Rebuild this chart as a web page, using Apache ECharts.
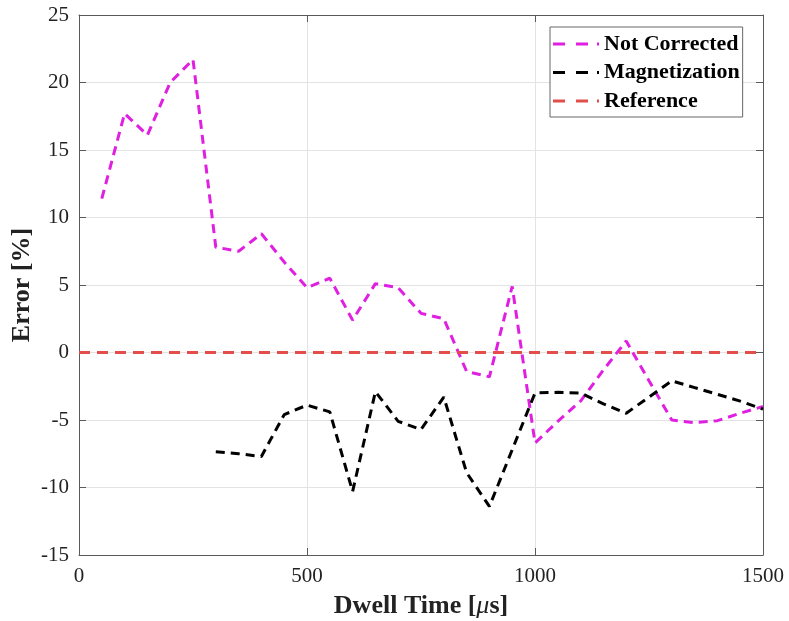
<!DOCTYPE html>
<html>
<head>
<meta charset="utf-8">
<script src="https://cdn.jsdelivr.net/npm/echarts@6/dist/echarts.min.js"></script>
<style>html,body{margin:0;padding:0;background:#fff}#c{width:789px;height:621px}</style>
</head>
<body>
<div id="c"></div>
<script>
// Data
const xNotCorrected = [50,100,150,200,250,300,350,400,450,500,550,600,650,700,750,800,850,900,950,1000,1050,1100,1150,1200,1250,1300,1350,1400,1450,1500];
const notCorrected = [11.4,17.7,16.1,20.0,21.7,7.8,7.5,8.8,6.7,4.8,5.5,2.4,5.1,4.8,2.9,2.5,-1.4,-1.8,4.9,-6.7,-5.1,-3.6,-1.3,0.85,-2.1,-5.0,-5.2,-5.05,-4.5,-4.0];
const xMagnetization = [300,350,400,450,500,550,600,650,700,750,800,850,900,950,1000,1050,1100,1150,1200,1250,1300,1350,1400,1450,1500];
const magnetization = [-7.35,-7.5,-7.7,-4.6,-3.9,-4.4,-10.3,-2.9,-5.1,-5.7,-3.3,-8.9,-11.4,-7.2,-3.0,-2.95,-3.0,-3.8,-4.5,-3.3,-2.1,-2.6,-3.1,-3.6,-4.2];
const xReference = [0,1500];
const reference = [0,0];
const seriesNames = ['Not Corrected','Magnetization','Reference'];
const xTicks = [0,500,1000,1500];
const yTicks = [-15,-10,-5,0,5,10,15,20,25];

const pair = (xs, ys) => xs.map((x, i) => [x, ys[i]]);
const serif = 'Liberation Serif';
const axisCol = '#5a5a5a';
const dashIcon = 'path://M0,0h12v3h-12z M23,0h12v3h-12z M44,0h2v3h-2z';

const xBase = {
  type: 'value', min: xTicks[0], max: xTicks[xTicks.length-1], interval: 500,
  axisLine: {show: true, onZero: false, lineStyle: {color: axisCol, width: 1}},
  axisTick: {show: true, inside: true, length: 7, lineStyle: {color: axisCol}},
  splitLine: {show: false}
};
const yBase = {
  type: 'value', min: yTicks[0], max: yTicks[yTicks.length-1], interval: 5,
  axisLine: {show: true, onZero: false, lineStyle: {color: axisCol, width: 1}},
  axisTick: {show: true, inside: true, length: 7, lineStyle: {color: axisCol}},
  splitLine: {show: false}
};

const option = {
  animation: false,
  backgroundColor: '#fff',
  grid: {left: 79, right: 26, top: 15, bottom: 66, containLabel: false, outerBoundsMode: 'none'},
  legend: {
    orient: 'vertical', left: 550, top: 27,
    padding: [6, 3, 5, 3],
    itemGap: 6.5, itemWidth: 46, itemHeight: 3,
    backgroundColor: '#fff', borderColor: '#666', borderWidth: 1,
    textStyle: {fontFamily: serif, fontWeight: 'bold', fontSize: 22, color: '#000'},
    data: seriesNames.map(n => ({name: n, icon: dashIcon}))
  },
  xAxis: [
    Object.assign({}, xBase, {
      position: 'bottom',
      splitLine: {show: true, lineStyle: {color: '#e3e3e3', width: 1}},
      axisLabel: {fontFamily: serif, fontSize: 21, color: '#222', margin: 11, formatter: v => String(v)},
      name: '{b|Dwell Time [}{i|\u03bc}{b|s]}',
      nameLocation: 'middle', nameGap: 38,
      nameTextStyle: {
        rich: {
          b: {fontFamily: serif, fontWeight: 'bold', fontSize: 26, color: '#222'},
          i: {fontFamily: serif, fontStyle: 'italic', fontSize: 26, color: '#222'}
        }
      }
    }),
    Object.assign({}, xBase, {position: 'top', axisLabel: {show: false}})
  ],
  yAxis: [
    Object.assign({}, yBase, {
      position: 'left',
      splitLine: {show: true, lineStyle: {color: '#e3e3e3', width: 1}},
      axisLabel: {fontFamily: serif, fontSize: 21, color: '#222', margin: 10},
      name: 'Error [%]', nameLocation: 'middle', nameGap: 44, nameMoveOverlap: false,
      nameTextStyle: {fontFamily: serif, fontWeight: 'bold', fontSize: 26, color: '#222'}
    }),
    Object.assign({}, yBase, {position: 'right', axisLabel: {show: false}})
  ],
  series: [
    {
      name: seriesNames[0], type: 'line', xAxisIndex: 0, yAxisIndex: 0,
      data: pair(xNotCorrected, notCorrected),
      symbol: 'none', color: '#e020e0',
      lineStyle: {color: '#e020e0', width: 3, type: [9, 6]}
    },
    {
      name: seriesNames[1], type: 'line', xAxisIndex: 0, yAxisIndex: 0,
      data: pair(xMagnetization, magnetization),
      symbol: 'none', color: '#000',
      lineStyle: {color: '#000', width: 3, type: [9, 6]}
    },
    {
      name: seriesNames[2], type: 'line', xAxisIndex: 0, yAxisIndex: 0,
      data: pair(xReference, reference),
      symbol: 'none', color: '#e24f4a',
      lineStyle: {color: '#e24f4a', width: 3, type: [11, 7]}
    }
  ]
};

const chart = echarts.init(document.getElementById('c'), null, {renderer: 'canvas'});
chart.setOption(option);
</script>
</body>
</html>
